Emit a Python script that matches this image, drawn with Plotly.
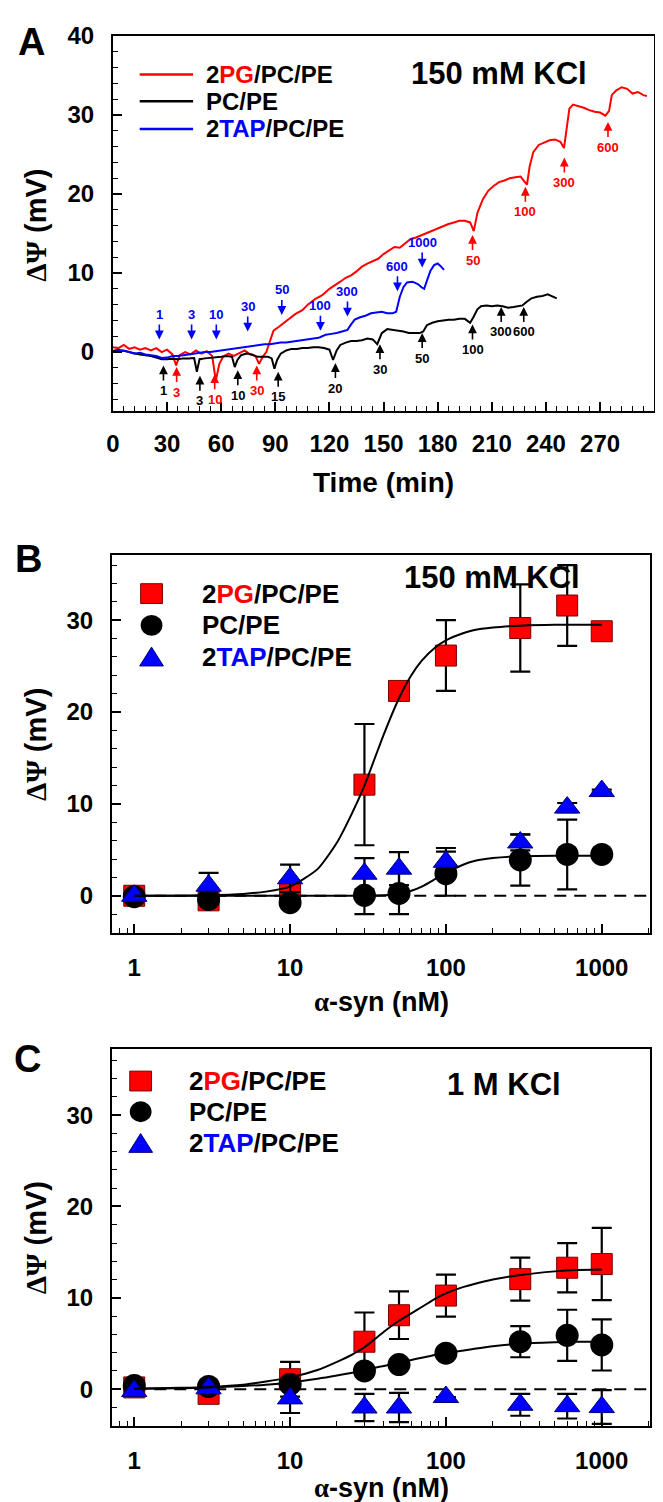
import plotly.graph_objects as go

W, H = 663, 1502
FONT = "Liberation Sans, Arial, sans-serif"
RED = "#ff0000"
BLUE = "#0000ff"

# ---------------- Panel A: time traces (150 mM KCl) ----------------
PG_A_T = [0, 3, 6, 9, 12, 15, 18, 21, 24, 27, 30, 33, 35, 37, 40, 43, 46, 49, 52, 55, 57, 59, 61, 64,
          67, 70, 73, 76, 79, 81, 83, 85, 87, 89, 92, 95, 98, 101, 105, 108, 112, 116, 120, 123, 126,
          129, 132, 135, 138, 141, 144, 147, 150, 153, 156, 159, 162, 165, 168, 171, 174, 177, 180,
          183, 186, 189, 192, 195, 198, 200, 202, 205, 208, 211, 214, 217, 220, 223, 226, 228, 229.5,
          231, 233, 236, 239, 242, 245, 248, 250, 251.5, 253, 255, 258, 261, 264, 267, 270, 273, 275,
          276.5, 279, 282, 285, 288, 291, 294, 296]
PG_A_V = [0.6, 0.5, 0.9, 0.4, 0.6, 0.3, 0.5, 0.2, 0.5, 0.0, 0.3, -0.3, -1.7, -0.4, 0.0, -0.3, 0.2, -0.2,
          0.1, -0.5, -3.6, -1.5, -0.6, -0.2, -0.5, -0.1, 0.2, -0.3, -0.5, -1.5, -0.6, 0.0, 1.5, 2.7, 3.2,
          3.7, 4.3, 4.8, 5.3, 6.0, 6.7, 7.2, 8.0, 8.4, 8.9, 9.4, 9.7, 10.2, 10.8, 11.2, 11.5, 11.8, 12.4,
          12.9, 13.3, 13.2, 13.8, 14.3, 14.5, 14.8, 15.1, 15.3, 15.6, 15.9, 16.2, 16.4, 16.6, 16.6, 16.4,
          15.3, 17.6, 19.3, 20.4, 21.0, 21.5, 21.7, 22.0, 22.1, 22.2, 21.6, 21.2, 23.5, 25.3, 26.2, 26.5,
          26.8, 26.9, 26.6, 25.8, 28.5, 30.8, 31.3, 31.1, 30.9, 30.6, 30.4, 30.3, 29.9, 30.5, 32.5, 33.1,
          33.5, 33.3, 32.7, 32.9, 32.5, 32.4]

PC_A_T = [0, 3, 6, 9, 12, 15, 18, 21, 24, 27, 30, 33, 36, 39, 42, 45, 46.5, 48, 51, 54, 57, 60, 63, 66,
          67.5, 69, 71, 74, 77, 80, 83, 86, 88, 89.5, 91, 93, 96, 99, 102, 105, 108, 111, 114, 117, 120,
          122, 124, 126, 129, 132, 135, 138, 141, 144, 146.5, 149, 152, 155, 158, 161, 164, 167, 170,
          172, 174, 177, 180, 183, 186, 189, 192, 195, 198, 200, 202, 204, 207, 210, 213, 216, 219, 222,
          225, 227, 229, 232, 235, 238, 241, 244, 246]
PC_A_V = [0.15, 0.3, 0.15, 0.0, -0.2, -0.3, -0.4, -0.5, -0.7, -0.9, -0.9, -0.85, -0.9, -0.8, -0.8,
          -0.75, -2.5, -0.9, -0.8, -0.75, -0.7, -0.6, -0.5, -0.6, -1.9, -1.0, -0.4, -0.2, -0.3, -0.6,
          -0.6, -0.6, -0.8, -2.1, -1.0, -0.2, 0.2, 0.4, 0.4, 0.5, 0.5, 0.6, 0.6, 0.5, 0.3, -1.0, 0.2,
          0.9, 1.2, 1.4, 1.4, 1.5, 1.7, 1.6, 1.0, 2.4, 2.9, 2.8, 2.7, 2.6, 2.4, 2.4, 2.4, 2.6, 3.4, 3.7,
          3.9, 4.0, 4.1, 4.1, 4.2, 4.2, 3.7, 4.5, 5.4, 5.8, 5.9, 5.8, 5.9, 5.8, 5.6, 5.7, 5.8, 5.9, 6.3,
          6.8, 7.0, 7.1, 7.3, 7.0, 6.8]

TAP_A_T = [0, 3, 6, 9, 12, 15, 18, 21, 24, 27, 30, 33, 36, 39, 42, 45, 48, 51, 54, 57, 60, 63, 66, 69,
           72, 75, 78, 81, 84, 87, 90, 93, 96, 99, 102, 105, 108, 111, 114, 116, 118, 121, 124, 127, 130,
           132, 134, 137, 140, 143, 146, 149, 152, 155, 157, 159, 161, 163, 166, 169, 171, 172.5, 174,
           176, 178, 180, 181.5, 183.5]
TAP_A_V = [0.0, 0.1, 0.2, 0.0, -0.2, -0.1, -0.3, -0.4, -0.5, -0.75, -0.7, -0.5, -0.5, -0.4, -0.3, -0.2,
           -0.1, 0.0, 0.0, 0.1, 0.2, 0.3, 0.4, 0.5, 0.6, 0.7, 0.8, 0.9, 1.0, 1.0, 1.1, 1.2, 1.2, 1.3, 1.4,
           1.5, 1.6, 1.7, 1.8, 2.0, 2.2, 2.3, 2.4, 2.6, 2.8, 3.5, 4.1, 4.4, 4.6, 4.9, 5.0, 5.1, 4.9, 4.9,
           5.1, 7.0, 8.2, 8.8, 8.9, 8.6, 8.2, 8.0, 9.0, 10.3, 11.0, 11.2, 10.9, 10.4]

# addition markers (time, tip value, concentration label)
TAP_ARROW_T = [25.7, 43.6, 57.3, 74.7, 93.6, 115, 130, 157.7, 171.4]
TAP_ARROW_V = [1.6, 1.6, 1.6, 2.6, 4.7, 2.7, 4.5, 7.7, 10.7]
TAP_ARROW_LBL = ["1", "3", "10", "30", "50", "100", "300", "600", "1000"]
PC_ARROW_T = [28, 48.2, 69.2, 91.6, 123.3, 148, 171.4, 199.3, 215.2, 227.7]
PC_ARROW_V = [-1.7, -3.0, -2.3, -2.5, -1.4, 1.0, 2.4, 3.5, 5.7, 5.7]
PC_ARROW_LBL = ["1", "3", "10", "15", "20", "30", "50", "100", "300", "600"]
PG_ARROW_T = [35.3, 56.4, 79.7, 199.3, 228.6, 250.2, 274.4]
PG_ARROW_V = [-1.9, -2.8, -1.7, 14.8, 20.9, 24.6, 29.1]
PG_ARROW_LBL = ["3", "10", "30", "50", "100", "300", "600"]

A_XTICKS = [0, 30, 60, 90, 120, 150, 180, 210, 240, 270, 300]
A_YTICKS = [0, 10, 20, 30, 40]

# ---------------- Panel B: 150 mM KCl ----------------
CONC = [1, 3, 10, 30, 50, 100, 300, 600, 1000]
PG_B = [0.0, -0.5, 0.5, 12.1, 22.3, 26.15, 29.15, 31.6, 28.8]
PG_B_ERR = [None, None, None, 6.6, None, 3.85, 4.75, 4.4, None]
PC_B = [-0.1, -0.4, -0.75, 0.05, 0.25, 2.4, 3.9, 4.5, 4.5]
PC_B_ERR = [None, None, None, 2.05, 2.25, 2.4, 2.8, 3.8, None]
TAP_B = [0.0, 1.1, 1.9, 2.4, 2.95, 3.7, 5.8, 9.6, 11.4]
TAP_B_ERR = [None, 1.4, 1.5, 1.7, 1.8, 1.5, 0.85, 0.5, 0.15]

FIT_X = [1, 2, 3, 5, 7, 10, 15, 20, 25, 30, 35, 40, 50, 60, 70, 85, 100, 130, 150, 200, 300, 500, 700, 1000]
PG_B_FIT = [0.0, 0.0, 0.05, 0.2, 0.45, 1.0, 2.9, 5.8, 9.0, 12.0, 15.0, 17.6, 21.5, 24.0, 25.6, 27.0,
            27.8, 28.6, 28.9, 29.2, 29.4, 29.5, 29.5, 29.5]
PC_B_FIT = [0.0, 0.0, 0.0, 0.0, 0.0, 0.0, 0.0, 0.0, 0.0, 0.0, 0.02, 0.05, 0.2, 0.55, 1.0, 1.8, 2.5,
            3.4, 3.75, 4.1, 4.3, 4.35, 4.35, 4.35]

# ---------------- Panel C: 1 M KCl ----------------
PG_C = [0.2, -0.5, 1.1, 5.2, 8.1, 10.25, 12.05, 13.3, 13.7]
PG_C_ERR = [None, None, 1.9, 3.2, 2.6, 2.3, 2.35, 2.7, 3.95]
PC_C = [0.4, 0.3, 0.55, 2.0, 2.7, 3.95, 5.2, 5.9, 4.85]
PC_C_ERR = [None, None, None, None, None, None, 1.7, 2.8, 2.8]
TAP_C = [-0.2, 0.1, -1.0, -2.0, -2.0, -0.85, -1.7, -1.85, -1.95]
TAP_C_ERR = [None, None, 1.6, 1.5, 1.6, None, 1.2, 1.35, 1.85]

PG_C_FIT = [0.05, 0.15, 0.25, 0.5, 0.85, 1.3, 2.1, 3.0, 3.8, 4.6, 5.5, 6.3, 7.5, 8.3, 9.0, 9.9,
            10.5, 11.2, 11.5, 12.0, 12.5, 12.9, 13.05, 13.1]
PC_C_FIT = [0.05, 0.1, 0.2, 0.35, 0.5, 0.75, 1.15, 1.5, 1.8, 2.1, 2.35, 2.55, 2.9, 3.2, 3.45, 3.75,
            3.95, 4.25, 4.4, 4.7, 5.0, 5.15, 5.2, 5.2]

ZERO_X = [1, 2000]
ZERO_Y = [0, 0]
LOG_TICKS = [1, 10, 100, 1000]
LOG_MINOR = [0.8, 0.9] + [d * m for d in (1, 10, 100) for m in range(2, 10)] + [2000]
BC_YTICKS = [0, 10, 20, 30]

LEG_NAMES = ["2<span style='color:#ff0000'>PG</span>/PC/PE", "PC/PE",
             "2<span style='color:#0000ff'>TAP</span>/PC/PE"]


def px(x):
    return x / W


def py(y):
    return 1 - y / H


fig = go.Figure()

# ---- Panel A traces ----
for t, v, c in [(PG_A_T, PG_A_V, RED), (PC_A_T, PC_A_V, "black"), (TAP_A_T, TAP_A_V, BLUE)]:
    fig.add_trace(go.Scatter(x=t, y=v, mode="lines", line=dict(color=c, width=2),
                             xaxis="x", yaxis="y", showlegend=False, hoverinfo="skip"))

annotations = []
for ts, vs, lbls, col, up in [(TAP_ARROW_T, TAP_ARROW_V, TAP_ARROW_LBL, BLUE, True),
                              (PC_ARROW_T, PC_ARROW_V, PC_ARROW_LBL, "black", False),
                              (PG_ARROW_T, PG_ARROW_V, PG_ARROW_LBL, RED, False)]:
    for t, v, l in zip(ts, vs, lbls):
        annotations.append(dict(x=t, y=v, xref="x", yref="y", text=l, showarrow=True,
                                ax=0, ay=-25 if up else 25, arrowhead=2, arrowsize=1.1,
                                arrowwidth=1.6, arrowcolor=col, standoff=0, startstandoff=1,
                                font=dict(family=FONT, size=13, color=col, weight="bold")))

# ---- Panels B and C ----
MSTYLE = [
    dict(symbol="square", color=RED, size=21, line=dict(color="#7a0000", width=1)),
    dict(symbol="circle", color="black", size=23, line=dict(color="black", width=0)),
    dict(symbol="triangle-up", color=BLUE, size=22, line=dict(color="#00007a", width=1)),
]

for xa, ya, pts, fits in [("x2", "y2", [(PG_B, PG_B_ERR), (PC_B, PC_B_ERR), (TAP_B, TAP_B_ERR)],
                           [PG_B_FIT, PC_B_FIT]),
                          ("x3", "y3", [(PG_C, PG_C_ERR), (PC_C, PC_C_ERR), (TAP_C, TAP_C_ERR)],
                           [PG_C_FIT, PC_C_FIT])]:
    fig.add_trace(go.Scatter(x=ZERO_X, y=ZERO_Y, mode="lines",
                             line=dict(color="black", width=2, dash="12px,8px"),
                             xaxis=xa, yaxis=ya, showlegend=False, hoverinfo="skip"))
    for (vals, errs), ms in zip(pts, MSTYLE):
        fig.add_trace(go.Scatter(x=CONC, y=vals, mode="markers", marker=ms,
                                 error_y=dict(type="data", array=errs, color="black",
                                              thickness=2.2, width=10),
                                 xaxis=xa, yaxis=ya, showlegend=False, hoverinfo="skip"))
    for f in fits:
        fig.add_trace(go.Scatter(x=FIT_X, y=f, mode="lines", line=dict(color="black", width=2,
                                                                        shape="spline", smoothing=0.6),
                                 xaxis=xa, yaxis=ya, showlegend=False, hoverinfo="skip"))

# ---- Manual legends ----
shapes = []
# A: line samples
for i, c in enumerate([RED, "black", BLUE]):
    yy = [53, 80, 108][i]
    shapes.append(dict(type="line", xref="paper", yref="paper", x0=px(126), x1=px(180),
                       y0=py(yy), y1=py(yy), line=dict(color=c, width=2.5)))
    annotations.append(dict(x=px(191), y=py(yy), xref="paper", yref="paper", text=LEG_NAMES[i],
                            showarrow=False, xanchor="left", yanchor="middle",
                            font=dict(family=FONT, size=24, color="black", weight="bold")))


def marker_shapes(cx, rows, txt_x):
    out = []
    y0 = rows[0]
    out.append(dict(type="rect", xref="paper", yref="paper", x0=px(cx - 11), x1=px(cx + 11),
                    y0=py(y0 + 10), y1=py(y0 - 10), fillcolor=RED, line=dict(color="#7a0000", width=1)))
    y1 = rows[1]
    out.append(dict(type="circle", xref="paper", yref="paper", x0=px(cx - 11), x1=px(cx + 11),
                    y0=py(y1 + 10.5), y1=py(y1 - 10.5), fillcolor="black", line=dict(color="black", width=0)))
    y2 = rows[2]
    path = "M {} {} L {} {} L {} {} Z".format(px(cx - 12), py(y2 + 9), px(cx + 12), py(y2 + 9),
                                               px(cx), py(y2 - 10))
    out.append(dict(type="path", xref="paper", yref="paper", path=path, fillcolor=BLUE,
                    line=dict(color="#00007a", width=1)))
    ann = []
    for i in range(3):
        ann.append(dict(x=px(txt_x), y=py(rows[i]), xref="paper", yref="paper", text=LEG_NAMES[i],
                        showarrow=False, xanchor="left", yanchor="middle",
                        font=dict(family=FONT, size=26, color="black", weight="bold")))
    return out, ann


s, a = marker_shapes(138, [577, 609, 641], 187)
shapes += s
annotations += a
s, a = marker_shapes(127, [1069, 1100, 1132], 174)
shapes += s
annotations += a

# ---- Text labels ----
ALPHA = "<span style=\"font-family:'Liberation Serif'\">α</span>-syn (nM)"
for txt, x, y, sz in [("A", 17, 20, 38), ("B", 14, 542, 38), ("C", 13, 1047, 38),
                      ("150 mM KCl", 489, 52, 31), ("150 mM KCl", 482, 561, 31), ("1 M KCl", 494, 1073, 31),
                      ("Time (min)", 372, 465, 28),
                      (ALPHA, 370, 989, 27),
                      (ALPHA, 370, 1480, 27)]:
    annotations.append(dict(x=px(x), y=py(y), xref="paper", yref="paper", text=txt, showarrow=False,
                            xanchor="center", yanchor="middle",
                            font=dict(family=FONT, size=sz, color="black", weight="bold")))
for y in [205, 729, 1227]:
    annotations.append(dict(x=px(21), y=py(y), xref="paper", yref="paper",
                            text="<span style=\"font-family:'Liberation Serif'\">ΔΨ</span> (mV)",
                            showarrow=False, textangle=-90, xanchor="center", yanchor="middle",
                            font=dict(family=FONT, size=29, color="black", weight="bold")))

AX = dict(showline=True, mirror=True, linewidth=2, linecolor="black", showgrid=False, zeroline=False,
          ticks="inside", ticklen=9, tickwidth=1.5, tickcolor="black",
          tickfont=dict(family=FONT, size=24, color="black", weight="bold"))

fig.update_layout(
    width=W, height=H, margin=dict(l=0, r=0, t=0, b=0),
    paper_bgcolor="white", plot_bgcolor="white", showlegend=False,
    font=dict(family=FONT, color="black"),
    xaxis=dict(AX, domain=[px(99), px(646)], range=[0, 300], tickvals=A_XTICKS, anchor="y",
               minor=dict(dtick=6, ticks="inside", ticklen=5, tickwidth=1.2, tickcolor="black"),
               ticklabelstandoff=10),
    yaxis=dict(AX, domain=[py(393), py(14)], range=[-7.5, 40], tickvals=A_YTICKS, anchor="x",
               minor=dict(dtick=2, ticks="inside", ticklen=5, tickwidth=1.2, tickcolor="black"),
               ticklabelstandoff=12),
    xaxis2=dict(AX, type="log", domain=[px(98), px(642)], range=[-0.143, 3.311], tickvals=LOG_TICKS,
                ticktext=[str(v) for v in LOG_TICKS], anchor="y2",
                minor=dict(tickvals=LOG_MINOR, ticks="inside", ticklen=5, tickwidth=1.2, tickcolor="black"),
                ticklabelstandoff=12),
    yaxis2=dict(AX, domain=[py(920), py(538)], range=[-4.1, 37.1], tickvals=BC_YTICKS, anchor="x2",
                minor=dict(dtick=2, ticks="inside", ticklen=5, tickwidth=1.2, tickcolor="black"),
                ticklabelstandoff=12),
    xaxis3=dict(AX, type="log", domain=[px(98), px(642)], range=[-0.143, 3.311], tickvals=LOG_TICKS,
                ticktext=[str(v) for v in LOG_TICKS], anchor="y3",
                minor=dict(tickvals=LOG_MINOR, ticks="inside", ticklen=5, tickwidth=1.2, tickcolor="black"),
                ticklabelstandoff=12),
    yaxis3=dict(AX, domain=[py(1417), py(1037)], range=[-4.0, 37.2], tickvals=BC_YTICKS, anchor="x3",
                minor=dict(dtick=2, ticks="inside", ticklen=5, tickwidth=1.2, tickcolor="black"),
                ticklabelstandoff=12),
    shapes=shapes, annotations=annotations,
)

fig.write_html("out.html")
